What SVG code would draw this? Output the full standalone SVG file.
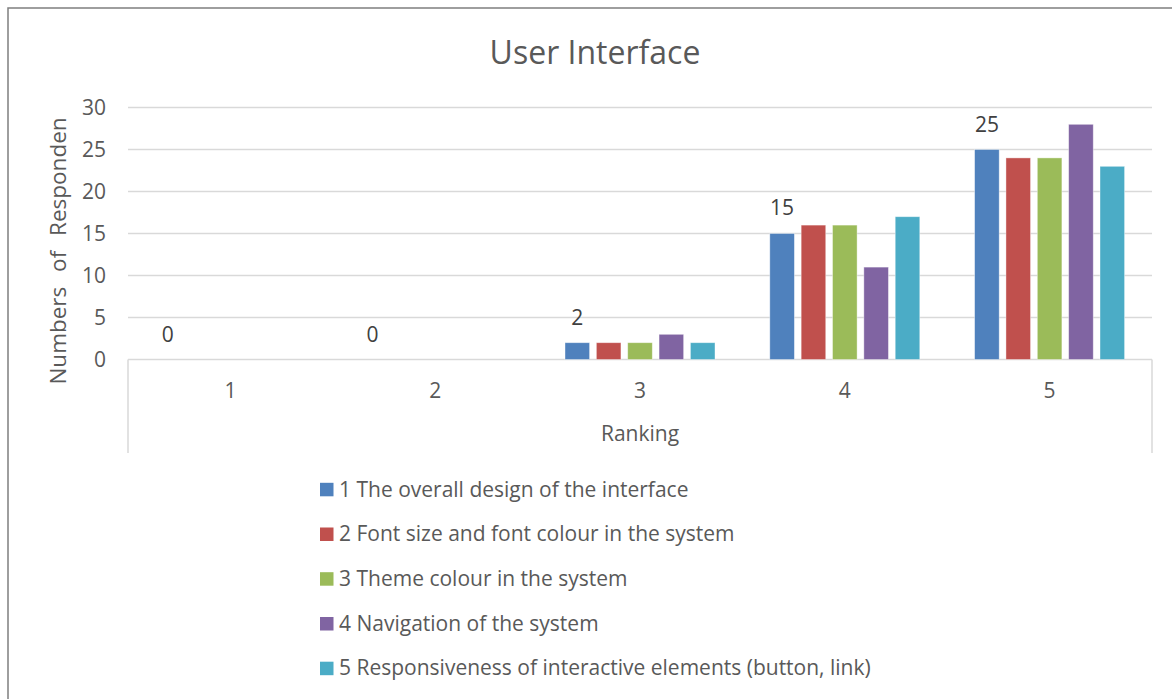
<svg xmlns="http://www.w3.org/2000/svg" width="1172" height="699" viewBox="0 0 1172 699">
<style>
text{font-family:"Open Sans","Liberation Sans",Arial,sans-serif;fill:#595959}
.tick{font-size:21px;text-anchor:end}
.cat{font-size:21px;text-anchor:middle}
.lbl{font-size:21px;text-anchor:middle;fill:#404040}
.leg{font-size:21px}
.grid{stroke:#d9d9d9;stroke-width:1.5;fill:none}
.s1{fill:#4f81bd}.s2{fill:#c0504d}.s3{fill:#9bbb59}.s4{fill:#8064a2}.s5{fill:#4bacc6}
.bar rect{stroke:#ffffff;stroke-opacity:0.5;stroke-width:0.8}
</style>
<rect width="1172" height="699" fill="#ffffff"/>
<path d="M8,699 V8 H1172" fill="none" stroke="#7f7f7f" stroke-width="1.5"/>
<text x="595" y="64" font-size="32" text-anchor="middle" id="title">User Interface</text>
<g id="gridlines">
<path class="grid" d="M128,107.5H1152M128,149.5H1152M128,191.5H1152M128,233.5H1152M128,275.5H1152M128,317.5H1152"/>
<path class="grid" d="M128,359.5H1152M128,359.5V453M1152,359.5V453"/>
</g>
<g id="y-axis">
<text class="tick" x="106" y="115">30</text>
<text class="tick" x="106" y="157">25</text>
<text class="tick" x="106" y="199">20</text>
<text class="tick" x="106" y="241">15</text>
<text class="tick" x="106" y="283">10</text>
<text class="tick" x="106" y="325">5</text>
<text class="tick" x="106" y="367">0</text>
<text font-size="22.5" text-anchor="middle" word-spacing="9" transform="translate(65.5,251) rotate(-90)">Numbers of Responden</text>
</g>
<g id="x-axis">
<text class="cat" x="230.4" y="397.5">1</text>
<text class="cat" x="435.2" y="397.5">2</text>
<text class="cat" x="640" y="397.5">3</text>
<text class="cat" x="844.8" y="397.5">4</text>
<text class="cat" x="1049.6" y="397.5">5</text>
<text class="cat" x="640" y="441">Ranking</text>
</g>
<g id="series1" class="bar s1">
<rect x="565" y="342.7" width="24.6" height="16.8"/>
<rect x="769.8" y="233.5" width="24.6" height="126"/>
<rect x="974.6" y="149.5" width="24.6" height="210"/>
</g>
<g id="series2" class="bar s2">
<rect x="596.35" y="342.7" width="24.6" height="16.8"/>
<rect x="801.15" y="225.1" width="24.6" height="134.4"/>
<rect x="1005.95" y="157.9" width="24.6" height="201.6"/>
</g>
<g id="series3" class="bar s3">
<rect x="627.7" y="342.7" width="24.6" height="16.8"/>
<rect x="832.5" y="225.1" width="24.6" height="134.4"/>
<rect x="1037.3" y="157.9" width="24.6" height="201.6"/>
</g>
<g id="series4" class="bar s4">
<rect x="659.05" y="334.3" width="24.6" height="25.2"/>
<rect x="863.85" y="267.1" width="24.6" height="92.4"/>
<rect x="1068.65" y="124.3" width="24.6" height="235.2"/>
</g>
<g id="series5" class="bar s5">
<rect x="690.4" y="342.7" width="24.6" height="16.8"/>
<rect x="895.2" y="216.7" width="24.6" height="142.8"/>
<rect x="1100" y="166.3" width="24.6" height="193.2"/>
</g>
<g id="data-labels">
<text class="lbl" x="167.7" y="341.5">0</text>
<text class="lbl" x="372.5" y="341.5">0</text>
<text class="lbl" x="577.3" y="325">2</text>
<text class="lbl" x="782.1" y="215">15</text>
<text class="lbl" x="986.9" y="131.5">25</text>
</g>
<g id="legend">
<rect class="s1" x="320" y="482.8" width="13.5" height="13.5"/>
<text class="leg" x="339" y="496.5">1 The overall design of the interface</text>
<rect class="s2" x="320" y="527.5" width="13.5" height="13.5"/>
<text class="leg" x="339" y="541.2">2 Font size and font colour in the system</text>
<rect class="s3" x="320" y="572.2" width="13.5" height="13.5"/>
<text class="leg" x="339" y="585.9">3 Theme colour in the system</text>
<rect class="s4" x="320" y="617" width="13.5" height="13.5"/>
<text class="leg" x="339" y="630.7">4 Navigation of the system</text>
<rect class="s5" x="320" y="661.7" width="13.5" height="13.5"/>
<text class="leg" x="339" y="675.4">5 Responsiveness of interactive elements (button, link)</text>
</g>
</svg>
